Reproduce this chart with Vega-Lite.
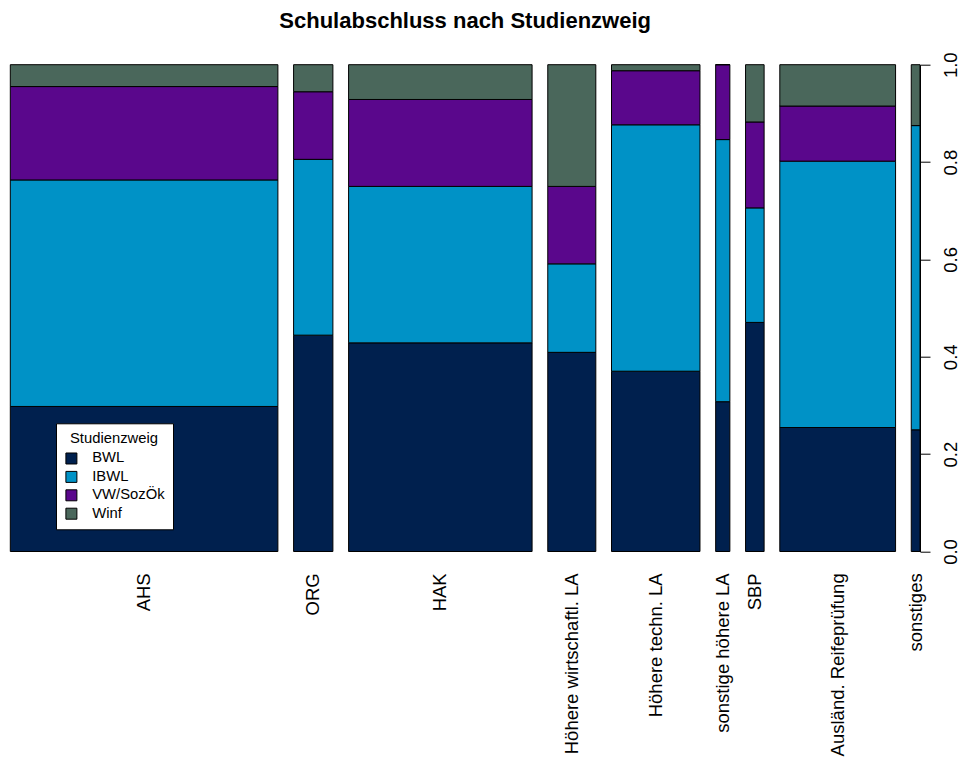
{
  "$schema": "https://vega.github.io/schema/vega-lite/v6.json",
  "autosize": {"type": "none"},
  "padding": {"left": 10.3, "top": 64.7, "right": 43, "bottom": 208.5},
  "width": 909.7,
  "height": 486.8,
  "title": {
    "text": "Schulabschluss nach Studienzweig",
    "font": "Liberation Sans",
    "fontSize": 22,
    "fontWeight": "bold",
    "color": "black",
    "anchor": "middle",
    "offset": 19
  },
  "data": {
    "values": [
      {"schule": "AHS", "ord": 1, "zweig": "BWL", "n": 73},
      {"schule": "AHS", "ord": 1, "zweig": "IBWL", "n": 114},
      {"schule": "AHS", "ord": 1, "zweig": "VW/SozÖk", "n": 47},
      {"schule": "AHS", "ord": 1, "zweig": "Winf", "n": 11},
      {"schule": "ORG", "ord": 2, "zweig": "BWL", "n": 16},
      {"schule": "ORG", "ord": 2, "zweig": "IBWL", "n": 13},
      {"schule": "ORG", "ord": 2, "zweig": "VW/SozÖk", "n": 5},
      {"schule": "ORG", "ord": 2, "zweig": "Winf", "n": 2},
      {"schule": "HAK", "ord": 3, "zweig": "BWL", "n": 72},
      {"schule": "HAK", "ord": 3, "zweig": "IBWL", "n": 54},
      {"schule": "HAK", "ord": 3, "zweig": "VW/SozÖk", "n": 30},
      {"schule": "HAK", "ord": 3, "zweig": "Winf", "n": 12},
      {"schule": "Höhere wirtschaftl. LA", "ord": 4, "zweig": "BWL", "n": 18},
      {"schule": "Höhere wirtschaftl. LA", "ord": 4, "zweig": "IBWL", "n": 8},
      {"schule": "Höhere wirtschaftl. LA", "ord": 4, "zweig": "VW/SozÖk", "n": 7},
      {"schule": "Höhere wirtschaftl. LA", "ord": 4, "zweig": "Winf", "n": 11},
      {"schule": "Höhere techn. LA", "ord": 5, "zweig": "BWL", "n": 30},
      {"schule": "Höhere techn. LA", "ord": 5, "zweig": "IBWL", "n": 41},
      {"schule": "Höhere techn. LA", "ord": 5, "zweig": "VW/SozÖk", "n": 9},
      {"schule": "Höhere techn. LA", "ord": 5, "zweig": "Winf", "n": 1},
      {"schule": "sonstige höhere LA", "ord": 6, "zweig": "BWL", "n": 4},
      {"schule": "sonstige höhere LA", "ord": 6, "zweig": "IBWL", "n": 7},
      {"schule": "sonstige höhere LA", "ord": 6, "zweig": "VW/SozÖk", "n": 2},
      {"schule": "sonstige höhere LA", "ord": 6, "zweig": "Winf", "n": 0},
      {"schule": "SBP", "ord": 7, "zweig": "BWL", "n": 8},
      {"schule": "SBP", "ord": 7, "zweig": "IBWL", "n": 4},
      {"schule": "SBP", "ord": 7, "zweig": "VW/SozÖk", "n": 3},
      {"schule": "SBP", "ord": 7, "zweig": "Winf", "n": 2},
      {"schule": "Ausländ. Reifeprüfung", "ord": 8, "zweig": "BWL", "n": 27},
      {"schule": "Ausländ. Reifeprüfung", "ord": 8, "zweig": "IBWL", "n": 58},
      {"schule": "Ausländ. Reifeprüfung", "ord": 8, "zweig": "VW/SozÖk", "n": 12},
      {"schule": "Ausländ. Reifeprüfung", "ord": 8, "zweig": "Winf", "n": 9},
      {"schule": "sonstiges", "ord": 9, "zweig": "BWL", "n": 2},
      {"schule": "sonstiges", "ord": 9, "zweig": "IBWL", "n": 5},
      {"schule": "sonstiges", "ord": 9, "zweig": "VW/SozÖk", "n": 0},
      {"schule": "sonstiges", "ord": 9, "zweig": "Winf", "n": 1}
    ]
  },
  "transform": [
    {"joinaggregate": [{"op": "sum", "field": "n", "as": "total"}], "groupby": ["schule"]},
    {"joinaggregate": [{"op": "sum", "field": "n", "as": "grand"}]},
    {"calculate": "datum.n / datum.total", "as": "prop"},
    {"stack": "prop", "groupby": ["schule"], "sort": [{"field": "zweig", "order": "ascending"}], "as": ["y0", "y1"]},
    {"window": [{"op": "sum", "field": "n", "as": "cumEnd"}, {"op": "dense_rank", "as": "idx"}], "sort": [{"field": "ord", "order": "ascending"}], "frame": [null, 0], "ignorePeers": false},
    {"calculate": "datum.cumEnd / datum.grand + (datum.idx - 1) * 0.02", "as": "xe"},
    {"calculate": "datum.xe - datum.total / datum.grand", "as": "xs"},
    {"calculate": "(datum.xs + datum.xe) / 2", "as": "xm"}
  ],
  "layer": [
    {
      "mark": {"type": "rect", "stroke": "black", "strokeWidth": 1},
      "encoding": {
        "x": {"field": "xs", "type": "quantitative", "scale": {"domain": [0, 1.16], "nice": false, "zero": false}, "axis": null},
        "x2": {"field": "xe"},
        "y": {"field": "y0", "type": "quantitative", "scale": {"domain": [0, 1], "nice": false},
          "axis": {
            "orient": "right",
            "values": [0, 0.2, 0.4, 0.6, 0.8, 1.0],
            "format": ".1f",
            "title": null,
            "grid": false,
            "domainColor": "black",
            "domainWidth": 1,
            "tickColor": "black",
            "tickWidth": 1,
            "tickSize": 10,
            "labelAngle": 270,
            "labelAlign": "center",
            "labelBaseline": "top",
            "labelPadding": 11,
            "labelFont": "Liberation Sans",
            "labelFontSize": 18.5,
            "labelColor": "black",
            "labelOverlap": false,
            "labelFlush": false
          }
        },
        "y2": {"field": "y1"},
        "fill": {
          "field": "zweig",
          "type": "nominal",
          "scale": {"domain": ["BWL", "IBWL", "VW/SozÖk", "Winf"], "range": ["#00204E", "#0092C6", "#5A078C", "#4A675B"]},
          "legend": {
            "title": "Studienzweig",
            "orient": "none",
            "legendX": 45.7,
            "legendY": 358.6,
            "fillColor": "white",
            "strokeColor": "black",
            "padding": 8,
            "titleAnchor": "middle",
            "titleFont": "Liberation Sans",
            "titleFontSize": 14.8,
            "titleFontWeight": "normal",
            "titleColor": "black",
            "titlePadding": 5,
            "labelFont": "Liberation Sans",
            "labelFontSize": 14.8,
            "labelColor": "black",
            "labelOffset": 13.4,
            "symbolType": "square",
            "symbolSize": 121,
            "symbolStrokeColor": "black",
            "symbolStrokeWidth": 1,
            "symbolOpacity": 1,
            "rowPadding": 2.4
          }
        }
      }
    },
    {
      "transform": [{"filter": {"field": "zweig", "equal": "BWL"}}],
      "mark": {"type": "text", "angle": 270, "align": "right", "baseline": "middle", "font": "Liberation Sans", "fontSize": 18.5, "color": "black", "dx": -21.8},
      "encoding": {
        "x": {"field": "xm", "type": "quantitative"},
        "y": {"datum": 0, "type": "quantitative"},
        "text": {"field": "schule", "type": "nominal"}
      }
    }
  ],
  "config": {
    "view": {"stroke": null},
    "font": "Liberation Sans"
  }
}
